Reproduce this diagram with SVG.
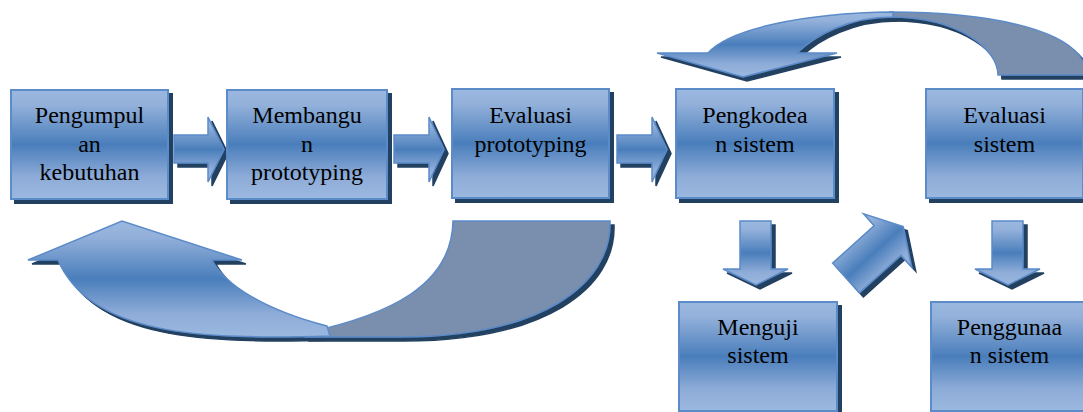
<svg xmlns="http://www.w3.org/2000/svg" width="1083" height="412" viewBox="0 0 1083 412">
<defs>
<linearGradient id="g" x1="0" y1="0" x2="0" y2="1">
<stop offset="0" stop-color="#9BB8DF"/>
<stop offset="0.14" stop-color="#92B0DA"/>
<stop offset="0.5" stop-color="#4A7EBB"/>
<stop offset="0.8" stop-color="#8EACD8"/>
<stop offset="1" stop-color="#9BB8DF"/>
</linearGradient>
<filter id="sh" x="-10%" y="-10%" width="130%" height="130%">
<feOffset in="SourceAlpha" dx="4" dy="4" result="o"/>
<feFlood flood-color="#243F60"/>
<feComposite in2="o" operator="in" result="s"/>
<feMerge><feMergeNode in="s"/><feMergeNode in="SourceGraphic"/></feMerge>
</filter>
</defs>
<style>
.box{fill:url(#g);stroke:#5B8BC9;stroke-width:2}
.arr{fill:url(#g);stroke:#5B8BC9;stroke-width:1.5}
.back{fill:#7A8EAD;stroke:#5B8BC9;stroke-width:1.5}
.t{font-family:'Liberation Serif','DejaVu Serif',serif;font-size:24px;fill:#000;text-anchor:middle}
</style>
<g id="connectors">
<g filter="url(#sh)">
<path class="back" d="M998 75 H1086 C1086 30 990 12 890 12 L890 17 C960 17 998 50 998 75 Z"/>
<path class="arr" d="M893 12 C800 13 728 30 708 53 L657 53 L743 77 L837 53 L797 53 C815 35 850 17 893 17 Z"/>
</g>
<g filter="url(#sh)">
<path class="back" d="M453 221 H610 C612 285 540 337 400 337 L305 337 L305 333 C390 315 452 285 453 221 Z"/>
<path class="arr" d="M58 260 H28 L122 221 L242 260 H212 C225 285 265 310 327 326 L330 336 C200 340 90 335 58 260 Z"/>
</g>
<path class="arr" filter="url(#sh)" d="M174 135 H208 V117 L224 149.5 L208 182 V163 H174 Z"/>
<path class="arr" filter="url(#sh)" d="M394 135 H429 V117 L444 149.5 L429 182 V163 H394 Z"/>
<path class="arr" filter="url(#sh)" d="M617 135 H652 V117 L667 149.5 L652 182 V163 H617 Z"/>
<path class="arr" filter="url(#sh)" d="M740 221 H771 V269 H788 L756 285 L723 269 H740 Z"/>
<path class="arr" filter="url(#sh)" d="M992 221 H1023 V269 H1040 L1008 285 L975 269 H992 Z"/>
<g filter="url(#sh)">
<path class="arr" transform="translate(846,278) rotate(-42)" d="M0 -20 H56 V-36 L77 0 L56 36 V20 H0 Z"/>
</g>
</g>
<g id="n1"><rect class="box" filter="url(#sh)" x="11" y="90" width="157" height="109"/><text class="t" x="89.5" y="123">Pengumpul</text><text class="t" x="89.5" y="151.5">an</text><text class="t" x="89.5" y="180">kebutuhan</text></g>
<g id="n2"><rect class="box" filter="url(#sh)" x="227" y="90" width="160" height="109"/><text class="t" x="307" y="123">Membangu</text><text class="t" x="307" y="151.5">n</text><text class="t" x="307" y="180">prototyping</text></g>
<g id="n3"><rect class="box" filter="url(#sh)" x="452" y="89" width="157" height="109"/><text class="t" x="530.5" y="123">Evaluasi</text><text class="t" x="530.5" y="151.5">prototyping</text></g>
<g id="n4"><rect class="box" filter="url(#sh)" x="676" y="89" width="158" height="109"/><text class="t" x="755" y="123">Pengkodea</text><text class="t" x="755" y="151.5">n sistem</text></g>
<g id="n5"><rect class="box" filter="url(#sh)" x="926" y="89" width="157" height="109"/><text class="t" x="1004.5" y="123">Evaluasi</text><text class="t" x="1004.5" y="151.5">sistem</text></g>
<g id="n6"><rect class="box" filter="url(#sh)" x="679" y="302" width="158" height="109"/><text class="t" x="758" y="335">Menguji</text><text class="t" x="758" y="363">sistem</text></g>
<g id="n7"><rect class="box" filter="url(#sh)" x="931" y="302" width="157" height="109"/><text class="t" x="1009.5" y="335">Penggunaa</text><text class="t" x="1009.5" y="363">n sistem</text></g>
</svg>
